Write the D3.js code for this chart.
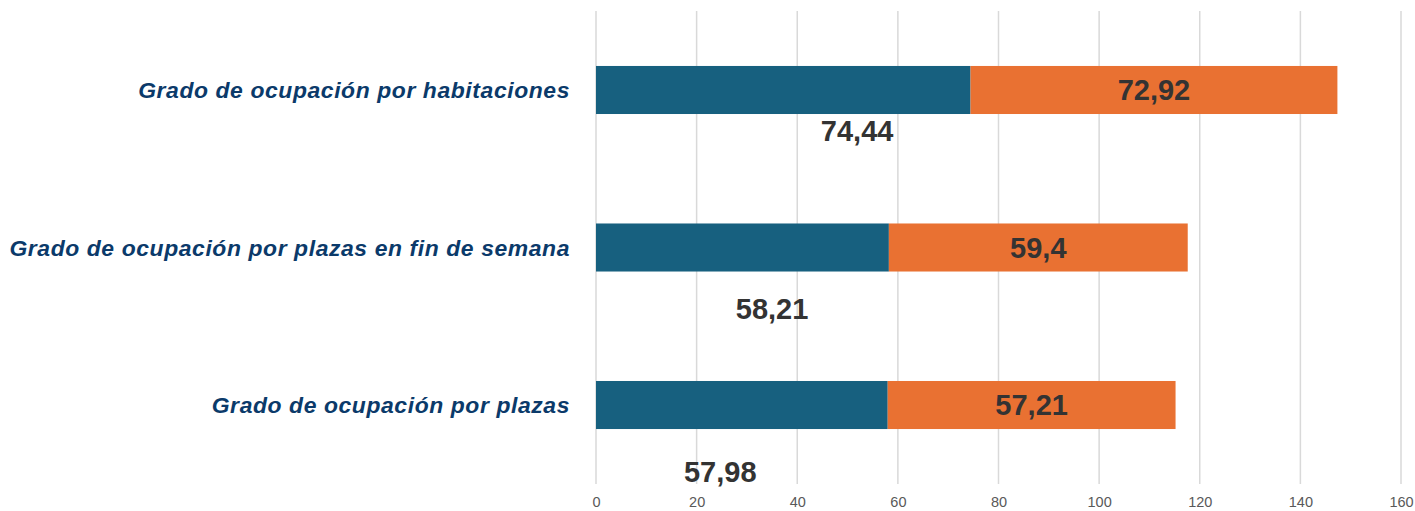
<!DOCTYPE html>
<html>
<head>
<meta charset="utf-8">
<script src="https://cdn.jsdelivr.net/npm/d3@7/dist/d3.min.js"></script>
<style>
  body { margin: 0; background: #fff; }
  svg { display: block; }
</style>
</head>
<body>
<div id="chart"></div>
<script>
// data
const categories = [
  'Grado de ocupación por habitaciones',
  'Grado de ocupación por plazas en fin de semana',
  'Grado de ocupación por plazas'
]
const serieA = [74.44, 58.21, 57.98]
const serieB = [72.92, 59.4, 57.21]
const xTicks = [0, 20, 40, 60, 80, 100, 120, 140, 160]

// where Excel left the blue labels (value units / px below the bar)
const labelAtA = [51.9, 35.0, 24.7]
const labelDropA = [17, 37, 43]

const op = {
  width: 1415,
  height: 511,
  margin: { top: 11, left: 596, right: 14, bottom: 27 },
  blue: '#17607f',
  orange: '#e97132',
  catColor: '#0b3a6a',
  valColor: '#333333',
  tickColor: '#595959',
  gridColor: '#d9d9d9'
}

const { width: w, height: h, margin } = op
const data = categories.map((c, i) => ({ name: c, a: serieA[i], b: serieB[i], i }))

const x = d3.scaleLinear().domain([0, 160]).range([margin.left, w - margin.right])
const y = d3.scaleBand().domain(categories).range([margin.top, h - margin.bottom]).paddingInner(0.695).paddingOuter(0.349)

const svg = d3.select('#chart').append('svg').attr('width', w).attr('height', h)
  .style('font-family', '"Liberation Sans", Arial, sans-serif')

// grid
svg.append('g').selectAll('line').data(xTicks).enter().append('line')
  .attr('x1', d => x(d)).attr('x2', d => x(d))
  .attr('y1', margin.top).attr('y2', h - margin.bottom)
  .attr('stroke', op.gridColor).attr('stroke-width', 1.5)

// axis labels
svg.append('g')
  .attr('transform', `translate(0, ${h - margin.bottom})`)
  .call(d3.axisBottom(x).tickValues(xTicks).tickSize(0).tickPadding(13))
  .call(g => g.select('.domain').remove())
  .attr('font-size', null).attr('font-family', null)
  .selectAll('text')
  .style('font-size', '14.5px').attr('fill', op.tickColor)
  .style('font-family', '"Liberation Sans", Arial, sans-serif')

// bars
const rows = svg.selectAll('.series').data(data).enter().append('g').classed('series', true)
rows.append('rect')
  .attr('x', x(0)).attr('y', d => y(d.name))
  .attr('width', d => x(d.a) - x(0)).attr('height', y.bandwidth())
  .attr('fill', op.blue)
rows.append('rect')
  .attr('x', d => x(d.a)).attr('y', d => y(d.name))
  .attr('width', d => x(d.a + d.b) - x(d.a)).attr('height', y.bandwidth())
  .attr('fill', op.orange)

const fmt = v => String(v).replace('.', ',')

// value labels
rows.append('text')
  .text(d => fmt(d.b))
  .attr('x', d => x(d.a + d.b / 2))
  .attr('y', d => y(d.name) + y.bandwidth() / 2)
  .attr('dy', '0.36em')
  .attr('text-anchor', 'middle')
  .attr('font-size', '29px').attr('font-weight', 'bold').attr('fill', op.valColor)
rows.append('text')
  .text(d => fmt(d.a))
  .attr('x', d => x(labelAtA[d.i]))
  .attr('y', d => y(d.name) + y.bandwidth() + labelDropA[d.i])
  .attr('dy', '0.36em')
  .attr('text-anchor', 'middle')
  .attr('font-size', '29px').attr('font-weight', 'bold').attr('fill', op.valColor)

// category labels
rows.append('text')
  .text(d => d.name)
  .attr('x', x(0) - 26)
  .attr('y', d => y(d.name) + y.bandwidth() / 2)
  .attr('dy', '0.36em')
  .attr('text-anchor', 'end')
  .attr('font-size', '22.9px').attr('font-weight', 'bold').attr('font-style', 'italic')
  .attr('letter-spacing', '0.6px')
  .attr('fill', op.catColor)
</script>
</body>
</html>
